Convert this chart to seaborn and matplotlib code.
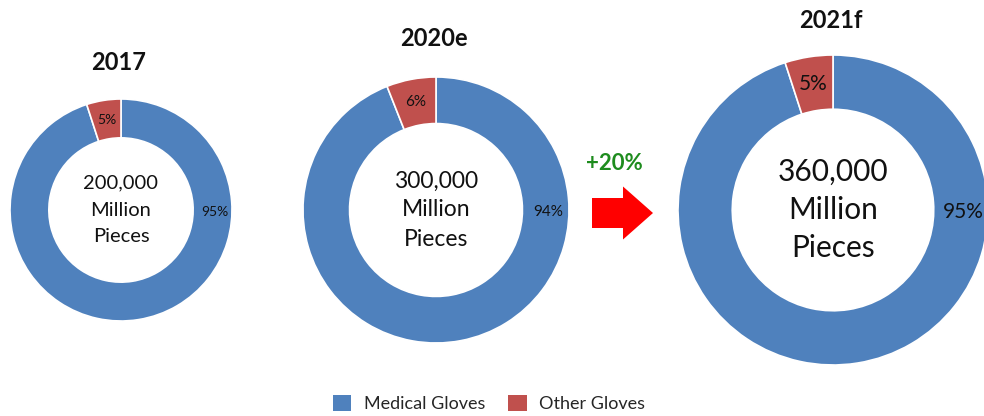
import numpy as np
import matplotlib
matplotlib.use("Agg")
import matplotlib.pyplot as plt
import seaborn as sns
from matplotlib.patches import Patch

# ---- data ----
years = ["2017", "2020e", "2021f"]
totals = ["200,000", "300,000", "360,000"]
categories = ["Medical Gloves", "Other Gloves"]
medical = [95, 94, 95]
other = [5, 6, 5]
growth_label = "+20%"

colors = ["#4F81BD", "#C0504D"]

sns.set_theme(style="white")
plt.rcParams["font.family"] = ["Lato", "DejaVu Sans"]

W, H = 984, 416
fig = plt.figure(figsize=(W / 100, H / 100), dpi=100)
ax = fig.add_axes([0, 0, 1, 1])
ax.set_xlim(0, W)
ax.set_ylim(0, H)
ax.set_aspect("equal")
ax.axis("off")

def Y(y):
    return H - y

# layout per donut: center x, center y, radius, title y, center font, pct font, title font
layout = [
    dict(cx=121, cy=210, r=111, ty=63, cfs=14.5, pfs=10, tfs=17, lsp=27),
    dict(cx=436, cy=210, r=133, ty=38, cfs=16.5, pfs=11, tfs=17, lsp=29),
    dict(cx=833, cy=210, r=155, ty=20, cfs=21.5, pfs=15, tfs=17, lsp=38),
]
width_frac = 0.35

for i, L in enumerate(layout):
    vals = [medical[i], other[i]]
    ax.pie(vals, colors=colors, startangle=90, counterclock=False,
           center=(L["cx"], Y(L["cy"])), radius=L["r"],
           wedgeprops=dict(width=L["r"] * width_frac, edgecolor="white", linewidth=1.2),
           frame=True)
    rm = L["r"] * (1 - width_frac / 2)
    # other label at middle of its wedge
    ang_o = np.deg2rad(90 + 360 * other[i] / 100 / 2)
    ax.text(L["cx"] + rm * np.cos(ang_o), Y(L["cy"]) + rm * np.sin(ang_o),
            f"{other[i]}%", ha="center", va="center", fontsize=L["pfs"], color="#111111")
    # medical label on the right side of the ring
    ang_m = np.deg2rad(-1)
    ax.text(L["cx"] + rm * np.cos(ang_m) + 2, Y(L["cy"]) + rm * np.sin(ang_m),
            f"{medical[i]}%", ha="center", va="center", fontsize=L["pfs"], color="#111111")
    # centre text
    lsp = L["lsp"]
    for k, line in enumerate([totals[i], "Million", "Pieces"]):
        ax.text(L["cx"], Y(L["cy"] - lsp + k * lsp), line, ha="center", va="center",
                fontsize=L["cfs"], color="#111111")
    # title
    ax.text(L["cx"] - 2, Y(L["ty"]), years[i], ha="center", va="center",
            fontsize=L["tfs"], fontweight="bold", color="#111111")

ax.set_xlim(0, W)
ax.set_ylim(0, H)
ax.axis("off")

# growth arrow
ax.arrow(592, Y(213), 61, 0, width=30, head_width=53, head_length=30,
         length_includes_head=True, color="#FF0000", linewidth=0)
ax.text(614, Y(163), growth_label, ha="center", va="center", fontsize=16,
        fontweight="bold", color="#1E8C1E")

handles = [Patch(facecolor=c, edgecolor="none", label=l) for c, l in zip(colors, categories)]
fig.legend(handles=handles, loc="lower center", bbox_to_anchor=(0.497, -0.03), ncol=2,
           frameon=False, fontsize=13, handlelength=1.0, handleheight=1.0,
           columnspacing=1.3, handletextpad=0.7)

fig.savefig("out.png", dpi=100, facecolor="white")
